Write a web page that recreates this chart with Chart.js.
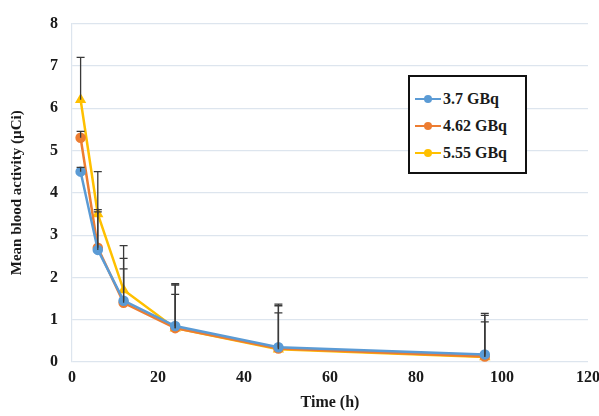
<!DOCTYPE html>
<html>
<head>
<meta charset="utf-8">
<script src="https://cdn.jsdelivr.net/npm/chart.js@4"></script>
<style>
  body { margin: 0; background: #fff; }
  #wrap { position: relative; width: 599px; height: 416px; }
  #legenda {
    position: absolute; left: 408px; top: 75px; width: 119px; height: 99px;
    border: 2.5px solid #111; background: #fff; box-sizing: border-box;
    font: bold 16px "Liberation Serif", "Times New Roman", serif; color: #1a1a1a;
    padding: 8px 0 0 5px;
  }
  .item { display: flex; align-items: center; height: 27px; }
  .linha { position: relative; width: 26px; height: 2px; margin-right: 2px; }
  .linha span { position: absolute; left: 9px; top: -3px; width: 8px; height: 8px; border-radius: 50%; }
</style>
</head>
<body>
<div id="wrap">
  <canvas id="grafico" width="599" height="416"></canvas>
  <div id="legenda"></div>
</div>
<script>
// Dados
const tempos = [2, 6, 12, 24, 48, 96];
const rotulos = ['3.7 GBq', '4.62 GBq', '5.55 GBq'];
const atividade37 = [4.5, 2.65, 1.45, 0.85, 0.35, 0.18];
const atividade462 = [5.3, 2.7, 1.4, 0.8, 0.32, 0.13];
const atividade555 = [6.2, 3.5, 1.7, 0.8, 0.3, 0.12];
// topo das barras de erro (média + desvio)
const erroSup37 = [4.6, 3.6, 2.2, 1.85, 1.16, 0.95];
const erroSup462 = [5.45, 3.55, 2.45, 1.6, 1.33, 1.1];
const erroSup555 = [7.2, 4.5, 2.75, 1.82, 1.37, 1.15];
const cores = ['#5B9BD5', '#ED7D31', '#FFC000'];

const fonteSerif = '"Liberation Serif", "Times New Roman", serif';

function montarSerie(valores, erros, i, estilo) {
  return {
    label: rotulos[i],
    data: tempos.map((t, k) => ({ x: t, y: valores[k], sup: erros[k] })),
    borderColor: cores[i],
    backgroundColor: cores[i],
    borderWidth: 2.5,
    pointStyle: estilo,
    pointRadius: 4,
    tension: 0
  };
}

// Plugin das barras de erro (só para cima)
const barrasErro = {
  id: 'barrasErro',
  afterDatasetsDraw(chart) {
    const ctx = chart.ctx;
    const xs = chart.scales.x, ys = chart.scales.y;
    ctx.save();
    ctx.strokeStyle = '#3a3a3a';
    ctx.lineWidth = 1.3;
    chart.data.datasets.forEach(ds => {
      ds.data.forEach(p => {
        const px = xs.getPixelForValue(p.x);
        const y0 = ys.getPixelForValue(p.y);
        const y1 = ys.getPixelForValue(p.sup);
        ctx.beginPath();
        ctx.moveTo(px, y0);
        ctx.lineTo(px, y1);
        ctx.moveTo(px - 4, y1);
        ctx.lineTo(px + 4, y1);
        ctx.stroke();
      });
    });
    ctx.restore();
  }
};

const ctx = document.getElementById('grafico').getContext('2d');
const grafico = new Chart(ctx, {
  type: 'line',
  data: {
    datasets: [
      montarSerie(atividade37, erroSup37, 0, 'circle'),
      montarSerie(atividade462, erroSup462, 1, 'circle'),
      montarSerie(atividade555, erroSup555, 2, 'triangle')
    ]
  },
  options: {
    responsive: false,
    animation: false,
    layout: { padding: { top: 16, right: 11, left: 4, bottom: 0 } },
    scales: {
      x: {
        type: 'linear',
        min: 0,
        max: 120,
        ticks: { stepSize: 20, color: '#1a1a1a', font: { family: fonteSerif, size: 16, weight: 'bold' }, padding: 6 },
        grid: { display: false, drawTicks: false },
        border: { display: false },
        title: { display: true, text: 'Time (h)', color: '#1a1a1a', font: { family: fonteSerif, size: 16, weight: 'bold' }, padding: { top: 2 } },
        afterFit(scale) { scale.height = 54; scale.paddingRight = 0; scale.paddingLeft = 0; }
      },
      y: {
        min: 0,
        max: 8,
        ticks: { stepSize: 1, color: '#1a1a1a', font: { family: fonteSerif, size: 16, weight: 'bold' }, padding: 14 },
        grid: { color: '#dde5ee', lineWidth: 1.2, drawTicks: false },
        border: { display: true, color: '#dde5ee', width: 1.2 },
        title: { display: true, text: 'Mean blood activity (µCi)', color: '#1a1a1a', font: { family: fonteSerif, size: 15, weight: 'bold' }, padding: { bottom: 0 } },
        afterFit(scale) { scale.width = 68; }
      }
    },
    plugins: {
      legend: { display: false },
      tooltip: { enabled: false }
    }
  },
  plugins: [barrasErro]
});

// Legenda em HTML dentro da área do gráfico
const legenda = document.getElementById('legenda');
grafico.data.datasets.forEach(ds => {
  const item = document.createElement('div');
  item.className = 'item';
  item.innerHTML = `<div class="linha" style="background:${ds.borderColor}"><span style="background:${ds.borderColor}"></span></div>${ds.label}`;
  legenda.appendChild(item);
});
</script>
</body>
</html>
